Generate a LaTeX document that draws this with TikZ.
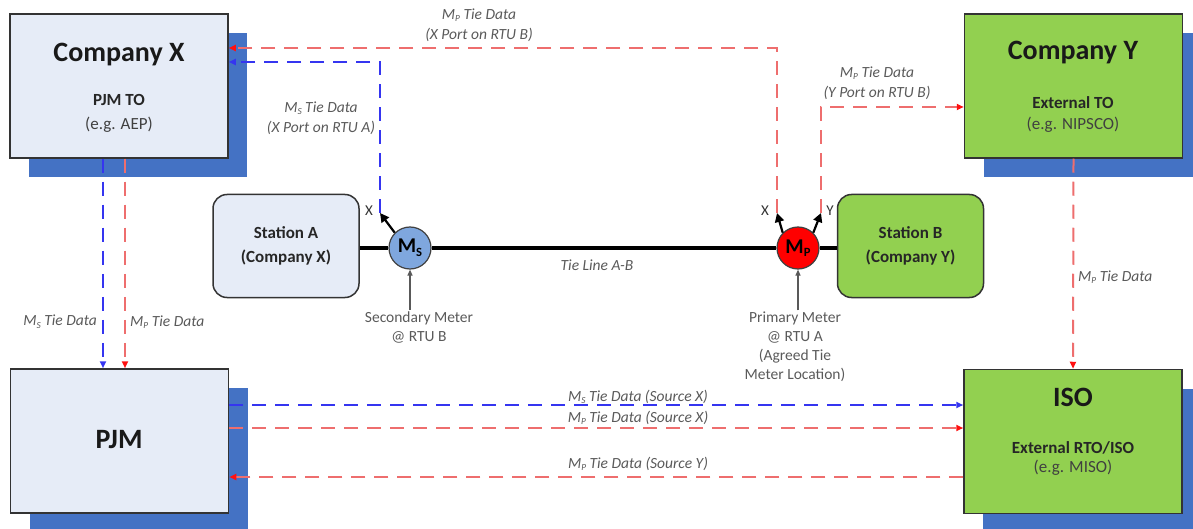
\documentclass[tikz,border=0pt]{standalone}
\usepackage{fontspec}
\setmainfont{Carlito}
\usetikzlibrary{arrows.meta,shadows}
\definecolor{boxblue}{HTML}{E6ECF7}
\definecolor{boxgreen}{HTML}{92D050}
\definecolor{shadowblue}{HTML}{4472C4}
\definecolor{dashred}{HTML}{EE6E6E}
\definecolor{tipred}{HTML}{FF1010}
\definecolor{dashblue}{HTML}{3535F0}
\definecolor{labelgray}{HTML}{5A5A5A}
\definecolor{msblue}{HTML}{7FA7DE}
\newcommand\lowsub[1]{\raisebox{-0.35ex}{\scalebox{0.6}{#1}}}
\begin{document}
\begin{tikzpicture}[x=1pt,y=-1pt,
  bigbox/.style={draw=black!80, line width=1.5pt, minimum width=218pt, minimum height=144pt, inner sep=0pt,
    drop shadow={shadow xshift=19pt, shadow yshift=-19pt, fill=shadowblue, opacity=1}},
  stationbox/.style={draw=black!80, line width=1.5pt, rounded corners=14pt, minimum width=146pt, minimum height=103pt, inner sep=0pt},
  meter/.style={circle, draw=black!75, line width=1.2pt, minimum size=42pt, inner sep=0pt, font=\fontsize{21}{22}\selectfont\bfseries},
  titletext/.style={font=\fontsize{28}{30}\selectfont\bfseries, text=black!90},
  subbold/.style={font=\fontsize{17}{20}\selectfont\bfseries, text=black!85},
  subreg/.style={font=\fontsize{17}{20}\selectfont, text=black!75},
  stationtext/.style={font=\fontsize{17}{24}\selectfont\bfseries, text=black!85, align=center},
  lbl/.style={font=\fontsize{15.5}{20}\selectfont\itshape, text=labelgray, align=center, inner sep=1pt},
  note/.style={font=\fontsize{15.5}{19}\selectfont, text=labelgray, align=center, inner sep=1pt},
  porttext/.style={font=\fontsize{15}{16}\selectfont, text=black!80, inner sep=0pt},
  reddash/.style={draw=dashred, line width=2pt, dash pattern=on 14pt off 9pt, -{Triangle[length=7pt,width=6pt,color=tipred]}},
  bluedash/.style={draw=dashblue, line width=2pt, dash pattern=on 14pt off 9pt, -{Triangle[length=7pt,width=6pt,color=dashblue]}},
  meterarrow/.style={draw=black, line width=2.2pt, -{Triangle[length=9pt,width=9pt]}},
  notearrow/.style={draw=black!65, line width=1.2pt, -{Triangle[length=6pt,width=5pt]}}
]
\useasboundingbox (0,0) rectangle (1193,529);
\fill[white] (0,0) rectangle (1193,529);

% main boxes
\node[bigbox, fill=boxblue] (cx) at (119,86) {};
\node[bigbox, fill=boxgreen] (cy) at (1073.5,86) {};
\node[bigbox, fill=boxblue] (pjm) at (119.5,441) {};
\node[bigbox, fill=boxgreen] (iso) at (1073,441.5) {};

\node[titletext] (cxt) at (119,55) {Company X};
\node[subbold] (cxs) at (119,100) {PJM TO};
\node[subreg] (cxe) at (119,125) {(e.g. AEP)};

\node[titletext] (cyt) at (1073,53) {Company Y};
\node[subbold] (cys) at (1073,103) {External TO};
\node[subreg] (cye) at (1073,125) {(e.g. NIPSCO)};

\node[titletext] (pjmt) at (119,440) {PJM};

\node[titletext] (isot) at (1073,397) {ISO};
\node[subbold] (isos) at (1073,448) {External RTO/ISO};
\node[subreg] (isoe) at (1073,468) {(e.g. MISO)};

% stations
\node[stationbox, fill=boxblue, stationtext] (stA) at (286,246) {Station A\\(Company X)};
\node[stationbox, fill=boxgreen, stationtext] (stB) at (910.5,246) {Station B\\(Company Y)};

% meters
\node[meter, fill=msblue] (ms) at (410,248) {M\lowsub{S}};
\node[meter, fill=red] (mp) at (798,248) {M\lowsub{P}};

% tie line
\draw[line width=4.5pt] (stA.east |- ms) -- (ms.west);
\draw[line width=4.5pt] (ms.east) -- (mp.west);
\draw[line width=4.5pt] (mp.east) -- (stB.west |- mp);
\node[lbl] (tiel) at (597,265) {Tie Line A-B};

% ports
\coordinate (xa) at (380,213);
\coordinate (xb) at (777,213);
\coordinate (yb) at (821,213);
\draw[meterarrow] (ms.north west) -- (xa);
\draw[meterarrow] (mp.north west) -- (xb);
\draw[meterarrow] (mp.north east) -- (yb);
\node[porttext] (xal) at (369,211) {X};
\node[porttext] (xbl) at (765,211) {X};
\node[porttext] (ybl) at (830,211) {Y};

% meter notes
\node[note] (secnote) at (419,327) {Secondary Meter\\@ RTU B};
\node[note] (prinote) at (795,346.5) {Primary Meter\\@ RTU A\\(Agreed Tie\\Meter Location)};
\draw[notearrow] (ms.south |- secnote.north) -- (ms.south);
\draw[notearrow] (mp.south |- prinote.north) -- (mp.south);

% dashed data flows from meters
\draw[bluedash] (xa) |- (cx.east |- 0,62);
\draw[reddash] (xb) |- (cx.east |- 0,48);
\draw[reddash] (yb) |- (cy.west |- 0,107);

\node[lbl] (l1) at (479,25) {M\lowsub{P} Tie Data\\(X Port on RTU B)};
\node[lbl] (l2) at (321,118) {M\lowsub{S} Tie Data\\(X Port on RTU A)};
\node[lbl] (l3) at (877,83) {M\lowsub{P} Tie Data\\(Y Port on RTU B)};

% vertical flows
\draw[bluedash] (cx.south -| 103,0) -- (pjm.north -| 103,0);
\draw[reddash] (cx.south -| 125,0) -- (pjm.north -| 125,0);
\draw[reddash] (cy.south) -- (iso.north);
\node[lbl, anchor=east] (l4) at (98,322) {M\lowsub{S} Tie Data};
\node[lbl, anchor=west] (l5) at (129,322) {M\lowsub{P} Tie Data};
\node[lbl, anchor=west] (l6) at (1077,277) {M\lowsub{P} Tie Data};

% horizontal flows
\draw[bluedash] (pjm.east |- 0,405) -- (iso.west |- 0,405);
\draw[reddash] (pjm.east |- 0,428) -- (iso.west |- 0,428);
\draw[reddash] (iso.west |- 0,477) -- (pjm.east |- 0,477);
\node[lbl] (l7) at (638,397) {M\lowsub{S} Tie Data (Source X)};
\node[lbl] (l8) at (638,418) {M\lowsub{P} Tie Data (Source X)};
\node[lbl] (l9) at (638,464) {M\lowsub{P} Tie Data (Source Y)};
\end{tikzpicture}
\end{document}
